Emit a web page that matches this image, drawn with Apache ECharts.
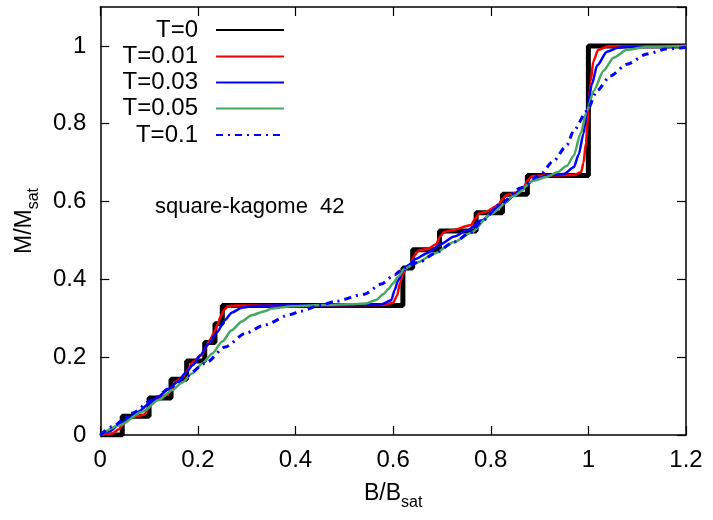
<!DOCTYPE html>
<html>
<head>
<meta charset="utf-8">
<script src="https://cdn.jsdelivr.net/npm/echarts@6/dist/echarts.min.js"></script>
<style>
  html, body { margin: 0; padding: 0; background: #fff; }
  #chart { width: 713px; height: 520px; }
</style>
</head>
<body>
<div id="chart"></div>
<script>
// tick labels
var xTickLabels = ['0', '0.2', '0.4', '0.6', '0.8', '1', '1.2'];
var yTickLabels = ['0', '0.2', '0.4', '0.6', '0.8', '1'];

// T=0 staircase (field where the step happens, magnetisation after it)
var stepB = [0, 0.045, 0.100, 0.145, 0.177, 0.214, 0.235, 0.250, 0.620, 0.640, 0.695, 0.770, 0.824, 0.875, 1.000, 1.2];
var stepM = [0, 0.048, 0.095, 0.143, 0.190, 0.238, 0.286, 0.333, 0.429, 0.476, 0.524, 0.571, 0.619, 0.667, 1.000, 1.000];

// finite temperature curves, [B, M]
var t001 = [[0, 0], [0.025, 0.004], [0.038, 0.015], [0.046, 0.026], [0.055, 0.040], [0.07, 0.047], [0.09, 0.052],
  [0.098, 0.066], [0.106, 0.085], [0.12, 0.095], [0.138, 0.104], [0.146, 0.12], [0.155, 0.138], [0.17, 0.15],
  [0.178, 0.166], [0.19, 0.188], [0.207, 0.205], [0.215, 0.222], [0.225, 0.245], [0.233, 0.262], [0.24, 0.284],
  [0.247, 0.305], [0.254, 0.322], [0.262, 0.331], [0.28, 0.333], [0.4, 0.333], [0.58, 0.334], [0.6, 0.34],
  [0.608, 0.358], [0.614, 0.39], [0.62, 0.415], [0.628, 0.43], [0.636, 0.44], [0.643, 0.46], [0.652, 0.474],
  [0.67, 0.478], [0.688, 0.49], [0.696, 0.51], [0.705, 0.522], [0.72, 0.526], [0.76, 0.54], [0.768, 0.556],
  [0.776, 0.569], [0.79, 0.574], [0.815, 0.59], [0.824, 0.607], [0.833, 0.617], [0.85, 0.622], [0.868, 0.638],
  [0.876, 0.655], [0.885, 0.665], [0.91, 0.667], [0.97, 0.668], [0.985, 0.675], [0.99, 0.7], [0.995, 0.75],
  [1.0, 0.833], [1.005, 0.91], [1.01, 0.96], [1.02, 0.99], [1.04, 0.999], [1.2, 1.0]];

var t003 = [[0, 0], [0.02, 0.01], [0.037, 0.026], [0.06, 0.045], [0.078, 0.06], [0.1, 0.08], [0.118, 0.098],
  [0.14, 0.118], [0.159, 0.137], [0.175, 0.16], [0.19, 0.18], [0.205, 0.205], [0.22, 0.232], [0.24, 0.265],
  [0.255, 0.295], [0.27, 0.315], [0.29, 0.327], [0.31, 0.331], [0.35, 0.333], [0.55, 0.334], [0.576, 0.336],
  [0.596, 0.346], [0.603, 0.372], [0.61, 0.397], [0.62, 0.423], [0.632, 0.437], [0.645, 0.452], [0.671, 0.468],
  [0.698, 0.491], [0.725, 0.51], [0.752, 0.526], [0.78, 0.551], [0.82, 0.59], [0.861, 0.628], [0.888, 0.655],
  [0.916, 0.667], [0.95, 0.671], [0.97, 0.688], [0.98, 0.72], [0.99, 0.775], [0.997, 0.833], [1.007, 0.9],
  [1.018, 0.95], [1.038, 0.985], [1.06, 0.995], [1.08, 0.998], [1.2, 1.0]];

var t005 = [[0, 0], [0.04, 0.025], [0.086, 0.06], [0.12, 0.09], [0.147, 0.115], [0.168, 0.135], [0.188, 0.158],
  [0.21, 0.185], [0.229, 0.209], [0.25, 0.24], [0.269, 0.269], [0.29, 0.292], [0.31, 0.308], [0.337, 0.318],
  [0.351, 0.325], [0.392, 0.331], [0.45, 0.334], [0.51, 0.336], [0.545, 0.338], [0.565, 0.347], [0.58, 0.362],
  [0.59, 0.375], [0.6, 0.39], [0.61, 0.406], [0.623, 0.427], [0.65, 0.444], [0.684, 0.466], [0.725, 0.496],
  [0.759, 0.519], [0.8, 0.568], [0.848, 0.615], [0.888, 0.654], [0.916, 0.664], [0.936, 0.675], [0.956, 0.692],
  [0.97, 0.718], [0.984, 0.775], [0.997, 0.833], [1.011, 0.885], [1.031, 0.936], [1.052, 0.97], [1.079, 0.99],
  [1.12, 0.998], [1.2, 1.0]];

var t01 = [[0, 0], [0.024, 0.021], [0.065, 0.056], [0.106, 0.09], [0.147, 0.124], [0.174, 0.15], [0.215, 0.184],
  [0.256, 0.226], [0.297, 0.261], [0.337, 0.283], [0.39, 0.31], [0.41, 0.318], [0.45, 0.333], [0.48, 0.343],
  [0.541, 0.362], [0.576, 0.388], [0.603, 0.412], [0.623, 0.43], [0.657, 0.446], [0.684, 0.466], [0.725, 0.496],
  [0.759, 0.521], [0.78, 0.547], [0.82, 0.594], [0.861, 0.635], [0.9, 0.668], [0.929, 0.705], [0.956, 0.745],
  [0.97, 0.782], [0.997, 0.833], [1.018, 0.885], [1.045, 0.923], [1.079, 0.953], [1.12, 0.979], [1.16, 0.992],
  [1.2, 0.996]];

var names = ['T=0', 'T=0.01', 'T=0.03', 'T=0.05', 'T=0.1'];

var FONT = 'Liberation Sans';
var chart = echarts.init(document.getElementById('chart'));

function tickFmt(labels, step) {
  return function (v) {
    var i = Math.round(v / step);
    if (Math.abs(v - i * step) < 1e-6 && i < labels.length) return labels[i];
    return '';
  };
}

var axisLine = { onZero: false, lineStyle: { color: '#000', width: 1.5 } };
var axisTick = { inside: true, length: 9, lineStyle: { color: '#000', width: 1.2 } };

var nameRich = {
  a: { fontFamily: FONT, fontSize: 23, color: '#000', lineHeight: 26 },
  b: { fontFamily: FONT, fontSize: 16, color: '#000', lineHeight: 18, padding: [18, 0, 0, 0] }
};

// legend: one component per entry so that text is right-aligned and the samples line up
var legendRows = [18, 44.5, 70.5, 96.5, 123];
var legends = names.map(function (n, i) {
  return {
    data: [n],
    right: 428,
    top: legendRows[i],
    padding: 0,
    align: 'right',
    itemWidth: 68,
    itemHeight: 14,
    selectedMode: false,
    itemStyle: { opacity: 0 },
    textStyle: { fontFamily: FONT, fontSize: 24, color: '#000', padding: [0, 13, 0, 0], lineHeight: 24 }
  };
});

function curve(name, data, color, width, type, z) {
  return {
    name: name, type: 'line', showSymbol: false, symbol: 'none', data: data,
    smooth: 0.25, smoothMonotone: 'x',
    lineStyle: { color: color, width: width, type: type }, itemStyle: { color: color }, z: z
  };
}

var option = {
  animation: false,
  backgroundColor: '#fff',
  grid: { left: 98, right: 27, top: 7, bottom: 85 },
  legend: legends,
  xAxis: [{
    type: 'value', min: 0, max: 1.2, interval: 0.2, position: 'bottom',
    axisLine: axisLine, axisTick: axisTick, splitLine: { show: false },
    axisLabel: { fontFamily: FONT, fontSize: 24, color: '#000', margin: 13, formatter: tickFmt(xTickLabels, 0.2) },
    name: '{a|B/B}{b|sat}', nameLocation: 'middle', nameGap: 45,
    nameTextStyle: { rich: nameRich }
  }, {
    type: 'value', min: 0, max: 1.2, interval: 0.2, position: 'top',
    axisLine: axisLine, axisTick: axisTick, splitLine: { show: false }, axisLabel: { show: false }
  }],
  yAxis: [{
    type: 'value', min: 0, max: 1.1, interval: 0.2, position: 'left',
    axisLine: axisLine, axisTick: axisTick, splitLine: { show: false },
    axisLabel: { fontFamily: FONT, fontSize: 24, color: '#000', margin: 14, showMaxLabel: false, formatter: tickFmt(yTickLabels, 0.2) },
    name: '{a|M/M}{b|sat}', nameLocation: 'middle', nameGap: 50, nameRotate: 90,
    nameTextStyle: { rich: nameRich }
  }, {
    type: 'value', min: 0, max: 1.1, interval: 0.2, position: 'right',
    axisLine: axisLine, axisTick: axisTick, splitLine: { show: false }, axisLabel: { show: false }
  }],
  graphic: [{
    type: 'text', left: 155, top: 196,
    style: { text: 'square-kagome  42', fontFamily: FONT, fontSize: 22, fill: '#000' }
  }],
  series: [{
    name: names[0], type: 'line', step: 'end', showSymbol: false, symbol: 'none',
    data: stepB.map(function (b, i) { return [b, stepM[i]]; }),
    lineStyle: { color: '#000', width: 5 }, itemStyle: { color: '#000' }, z: 2
  },
    curve(names[1], t001, '#ff0000', 2.5, 'solid', 3),
    curve(names[2], t003, '#0000ff', 2.5, 'solid', 4),
    curve(names[3], t005, '#45a860', 2.5, 'solid', 5),
    curve(names[4], t01, '#0000ff', 3, [7, 5, 2, 5], 6)
  ]
};

chart.setOption(option);
</script>
</body>
</html>
